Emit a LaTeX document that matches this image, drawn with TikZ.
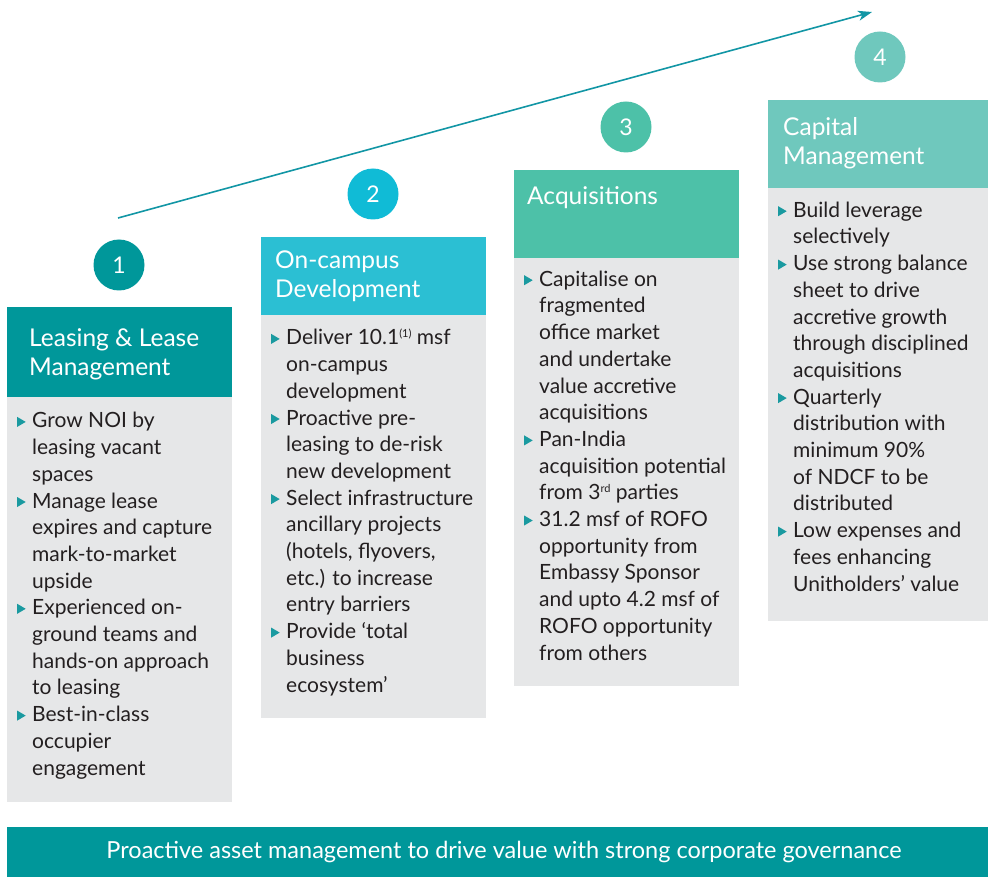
\documentclass[tikz,border=0pt]{standalone}
\usepackage{fontspec}
\setmainfont{Lato}
\usetikzlibrary{arrows.meta}
\definecolor{cA}{HTML}{00979A}
\definecolor{cB}{HTML}{2BBFD3}
\definecolor{cBc}{HTML}{10BBD6}
\definecolor{cC}{HTML}{4DC1A8}
\definecolor{cD}{HTML}{6FC8BD}
\definecolor{bodygray}{HTML}{E6E7E8}
\definecolor{arrowcol}{HTML}{1296A5}
\definecolor{bulcol}{HTML}{1A9AA0}
\definecolor{txt}{HTML}{231F20}
\newcommand{\bul}{\llap{\tikz[baseline=0pt]\fill[bulcol] (0pt,1pt) -- (0pt,11pt) -- (8.5pt,6pt) -- cycle;\hspace{6.5pt}}}
\newcommand{\supr}[1]{\raisebox{7pt}{\fontsize{11}{11}\selectfont #1}}
\tikzset{
  numcirc/.style={circle, minimum size=51pt, inner sep=0pt, text=white, font=\fontsize{23}{23}\selectfont},
  headtxt/.style={anchor=base west, inner sep=0pt, align=left, text=white, font=\fontsize{24.5}{29}\selectfont},
  bodytxt/.style={anchor=base west, inner sep=0pt, align=left, text=txt, font=\fontsize{21}{26.7}\selectfont},
}
\begin{document}
\begin{tikzpicture}[x=1pt,y=-1pt]
\useasboundingbox (0,0) rectangle (988,877);
% column boxes
\fill[bodygray] (7,397) rectangle (232,802);
\fill[cA] (7,307) rectangle (232,397);
\fill[bodygray] (261,315) rectangle (486,718);
\fill[cB] (261,237) rectangle (486,315);
\fill[bodygray] (514,258) rectangle (739,686);
\fill[cC] (514,170) rectangle (739,258);
\fill[bodygray] (768,188) rectangle (988,621);
\fill[cD] (768,100) rectangle (988,188);
% circles
\node[numcirc, fill=cA] (n1) at (119,265) {1};
\node[numcirc, fill=cBc] (n2) at (373,194) {2};
\node[numcirc, fill=cC] (n3) at (626,127) {3};
\node[numcirc, fill=cD] (n4) at (880,57) {4};
% arrow
\coordinate (as) at (118,218);
\coordinate (ae) at (872,12);
\draw[arrowcol, line width=1.6pt, -{Stealth[length=14pt,width=10pt,inset=4pt]}] (as) -- (ae);
% headers (anchor = baseline of last line)
\node[headtxt] (h1) at (29,375) {Leasing \& Lease\\Management};
\node[headtxt] (h2) at (275,298) {On-campus\\Development};
\node[headtxt] (h3) at (527,205) {Acquisitions};
\node[headtxt] (h4) at (783,165) {Capital\\Management};
% bodies (anchor = baseline of last line)
\node[bodytxt] (b1) at (32,775) {\bul Grow NOI by\\leasing vacant\\spaces\\\bul Manage lease\\expires and capture\\mark-to-market\\upside\\\bul Experienced on-\\ground teams and\\hands-on approach\\to leasing\\\bul Best-in-class\\occupier\\engagement};
\node[bodytxt] (b2) at (286,692) {\bul Deliver 10.1\supr{(1)} msf\\on-campus\\development\\\bul Proactive pre-\\leasing to de-risk\\new development\\\bul Select infrastructure\\ancillary projects\\(hotels, flyovers,\\etc.) to increase\\entry barriers\\\bul Provide ‘total\\business\\ecosystem’};
\node[bodytxt] (b3) at (539,660) {\bul Capitalise on\\fragmented\\office market\\and undertake\\value accretive\\acquisitions\\\bul Pan-India\\acquisition potential\\from 3\supr{rd} parties\\\bul 31.2 msf of ROFO\\opportunity from\\Embassy Sponsor\\and upto 4.2 msf of\\ROFO opportunity\\from others};
\node[bodytxt] (b4) at (793,591) {\bul Build leverage\\selectively\\\bul Use strong balance\\sheet to drive\\accretive growth\\through disciplined\\acquisitions\\\bul Quarterly\\distribution with\\minimum 90\%\\of NDCF to be\\distributed\\\bul Low expenses and\\fees enhancing\\Unitholders’ value};
% banner
\fill[cA] (7,827) rectangle (988,877);
\node[text=white, font=\fontsize{23.5}{26}\selectfont, inner sep=0pt] (ban) at (504,852) {Proactive asset management to drive value with strong corporate governance};
\end{tikzpicture}
\end{document}
